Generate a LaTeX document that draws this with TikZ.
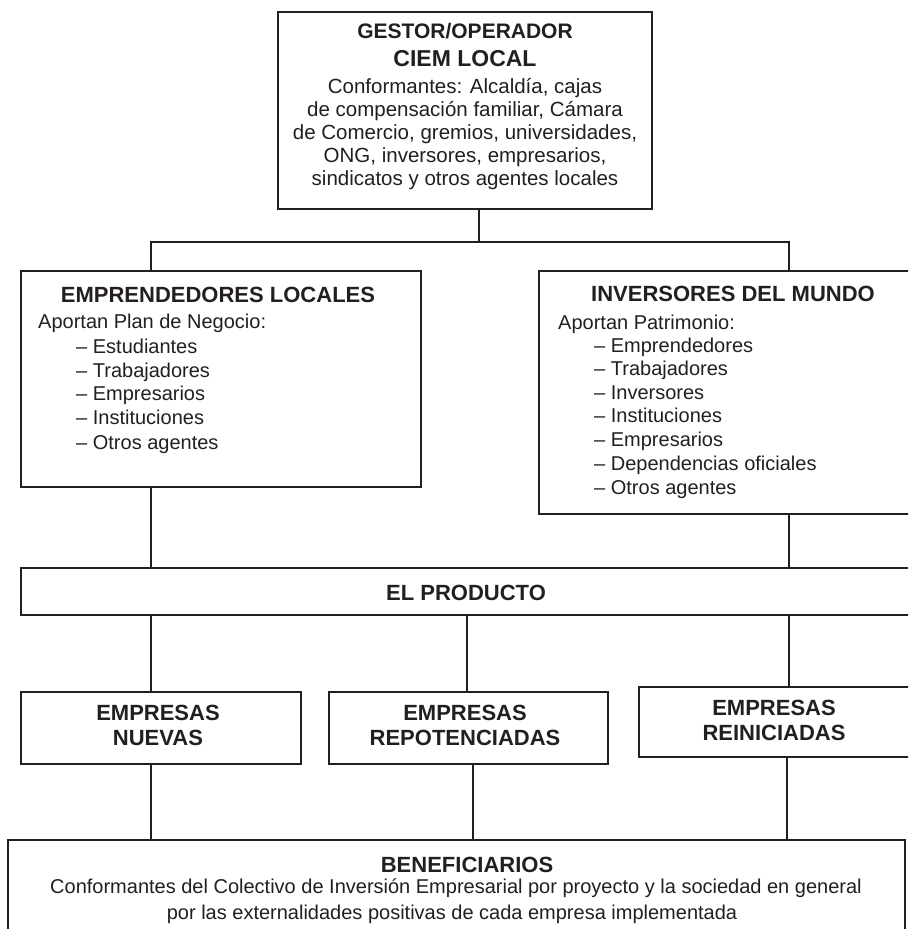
\documentclass[tikz,border=0pt]{standalone}
\usepackage{fontspec}
\setmainfont{Liberation Sans}
\definecolor{ink}{HTML}{231F20}
\begin{document}
\begin{tikzpicture}[x=1pt,y=-1pt,
  box/.style={draw=ink, line width=1.4pt, inner sep=0pt, rectangle},
  conn/.style={draw=ink, line width=1.3pt},
  body/.style={text=ink, inner sep=0pt, anchor=base, font=\fontsize{20}{24}\selectfont},
  topbody/.style={text=ink, inner sep=0pt, anchor=base, font=\fontsize{20.5}{24}\selectfont},
  hdr/.style={text=ink, inner sep=0pt, anchor=base, font=\bfseries\fontsize{22}{26}\selectfont},
  item/.style={body, anchor=base west},
]
\clip (0,0) rectangle (908,929);
\fill[white] (0,0) rectangle (908,929);

% boxes
\node[box, minimum width=374pt, minimum height=197pt] (top) at (465,110.5) {};
\node[box, minimum width=400pt, minimum height=216pt] (emp) at (221,379) {};
\node[box, minimum width=388pt, minimum height=243pt] (inv) at (733,392.5) {};
\node[box, minimum width=890pt, minimum height=47pt] (prod) at (466,591.5) {};
\node[box, minimum width=280pt, minimum height=72pt] (nue) at (161,728) {};
\node[box, minimum width=279pt, minimum height=72pt] (rep) at (468.5,728) {};
\node[box, minimum width=271pt, minimum height=70pt] (rei) at (774.5,722) {};
\node[box, minimum width=897pt, minimum height=100pt] (ben) at (456.5,890) {};

% top box text
\node[hdr, font=\bfseries\fontsize{21}{25}\selectfont] (t1) at (465,38) {GESTOR/OPERADOR};
\node[hdr, font=\bfseries\fontsize{23}{27}\selectfont] (t2) at (465,66) {CIEM LOCAL};
\node[topbody] (t3) at (465,93) {Conformantes: Alcaldía, cajas};
\node[topbody] (t4) at (465,116) {de compensación familiar, Cámara};
\node[topbody] (t5) at (465,139) {de Comercio, gremios, universidades,};
\node[topbody] (t6) at (465,162) {ONG, inversores, empresarios,};
\node[topbody] (t7) at (465,185) {sindicatos y otros agentes locales};

% left box text
\node[hdr] (e0) at (218,302) {EMPRENDEDORES LOCALES};
\node[item] (e1) at (38,328) {Aportan Plan de Negocio:};
\node[item] (e2) at (76,353) {– Estudiantes};
\node[item] (e3) at (76,377) {– Trabajadores};
\node[item] (e4) at (76,400.5) {– Empresarios};
\node[item] (e5) at (76,424.5) {– Instituciones};
\node[item] (e6) at (76,449) {– Otros agentes};

% right box text
\node[hdr] (i0) at (733,301) {INVERSORES DEL MUNDO};
\node[item] (i1) at (558,329) {Aportan Patrimonio:};
\node[item] (i2) at (594,352) {– Emprendedores};
\node[item] (i3) at (594,375.5) {– Trabajadores};
\node[item] (i4) at (594,399) {– Inversores};
\node[item] (i5) at (594,422.5) {– Instituciones};
\node[item] (i6) at (594,446) {– Empresarios};
\node[item] (i7) at (594,470) {– Dependencias oficiales};
\node[item] (i8) at (594,494) {– Otros agentes};

% product bar
\node[hdr] (p0) at (466,600) {EL PRODUCTO};

% empresas
\node[hdr] (n1) at (158,720) {EMPRESAS};
\node[hdr] (n2) at (158,745) {NUEVAS};
\node[hdr] (r1) at (465,720) {EMPRESAS};
\node[hdr] (r2) at (465,745) {REPOTENCIADAS};
\node[hdr] (s1) at (774,715) {EMPRESAS};
\node[hdr] (s2) at (774,740) {REINICIADAS};

% beneficiarios
\node[hdr] (b0) at (467,872) {BENEFICIARIOS};
\node[body] (b1) at (456,893) {Conformantes del Colectivo de Inversión Empresarial por proyecto y la sociedad en general};
\node[body] (b2) at (452,919) {por las externalidades positivas de cada empresa implementada};

% connectors
\coordinate (j0) at (479,242);
\coordinate (jl) at (151,242);
\coordinate (jr) at (789,242);
\coordinate (c2) at (467,0);
\coordinate (c4) at (473,0);
\coordinate (c5) at (787,0);
\draw[conn] (top.south -| j0) -- (j0);
\draw[conn] (emp.north -| jl) -- (jl) -- (jr) -- (inv.north -| jr);
\draw[conn] (emp.south -| jl) -- (prod.north -| jl);
\draw[conn] (inv.south -| jr) -- (prod.north -| jr);
\draw[conn] (prod.south -| jl) -- (nue.north -| jl);
\draw[conn] (prod.south -| c2) -- (rep.north -| c2);
\draw[conn] (prod.south -| jr) -- (rei.north -| jr);
\draw[conn] (nue.south -| jl) -- (ben.north -| jl);
\draw[conn] (rep.south -| c4) -- (ben.north -| c4);
\draw[conn] (rei.south -| c5) -- (ben.north -| c5);
\end{tikzpicture}
\end{document}
